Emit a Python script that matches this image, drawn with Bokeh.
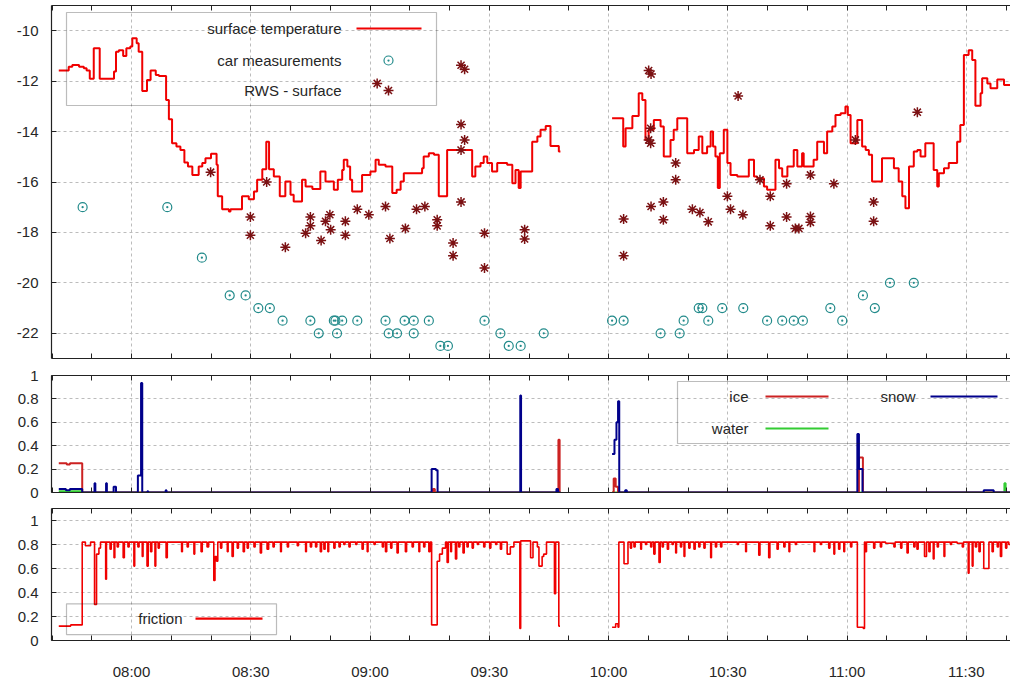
import math
from bokeh.plotting import figure
from bokeh.layouts import column
from bokeh.models import LinearAxis, FixedTicker, Range1d, Label, BoxAnnotation, Grid
from bokeh.embed import file_html
from bokeh.resources import INLINE

NAN = float("nan")

# ---------------- data (time = minutes after midnight) ----------------
# surface temperature (step line, NaN = gap in data)
temp_t = [461.7, 464.2, 465.1, 466.8, 468.0, 468.7, 469.5, 470.5, 472.0, 475.6,
          476.1, 476.8, 477.9, 478.7, 479.7, 480.2, 481.3, 481.8, 482.7, 483.9,
          484.8, 486.1, 486.9, 488.7, 489.4, 490.2, 491.3, 492.3, 493.3, 494.2,
          495.3, 496.9, 497.8, 498.6, 500.0, 501.4, 501.7, 502.8, 504.5, 504.9,
          507.8, 509.5, 510.8, 511.6, 512.9, 513.9, 514.6, 515.8, 517.3, 518.7,
          520.0, 520.8, 522.9, 523.8, 525.5, 527.5, 528.8, 530.9, 531.9, 533.0,
          533.4, 534.3, 535.0, 535.5, 538.0, 540.1, 541.4, 542.2, 543.9, 545.6,
          546.7, 547.7, 548.5, 553.1, 553.5, 554.8, 556.1, 557.3, 559.4, 565.7,
          566.5, 567.8, 568.6, 569.5, 570.7, 572.0, 574.5, 575.8, 576.6, 577.4,
          577.9, 580.8, 582.1, 582.9, 584.2, 585.4, 587.5, 587.9, NAN,
          600.9, 603.7, 604.3, 606.0, 607.6, 608.5, 609.3, 610.1, 611.4, 613.1,
          613.9, 615.6, 616.4, 617.3, 619.8, 621.5, 622.7, 623.6, 624.8, 625.7,
          626.3, 626.9, 627.5, 628.0, 629.0, 629.9, 630.7, 632.4, 635.3, 636.6,
          637.4, 639.1, 639.9, 642.0, 642.9, 643.7, 645.0, 646.6, 647.5, 648.7,
          649.1, 651.6, 652.5, 654.2, 655.0, 656.3, 657.1, 658.4, 659.6, 660.2,
          660.9, 662.6, 663.8, 664.7, 665.5, 666.3, 668.8, 671.8, 673.0, 673.9,
          674.7, 675.6, 676.8, 677.7, 678.5, 679.7, 681.8, 682.7, 683.1, 684.4,
          685.6, 687.7, 688.5, 689.4, 690.6, 691.5, 692.3, 693.6, 694.0, 695.3,
          696.1, 697.8, 699.5, 701.1]
temp_v = [-11.58, -11.43, -11.36, -11.43, -11.49, -11.58, -11.91, -10.70, -11.91, -11.62,
          -10.83, -10.77, -11.00, -10.70, -10.63, -10.30, -10.50, -10.83, -12.39, -11.95,
          -11.58, -11.76, -11.80, -12.75, -13.51, -14.46, -14.59, -14.73, -15.23, -15.39,
          -15.72, -15.39, -15.25, -15.06, -14.88, -15.32, -16.57, -17.08, -17.17, -17.08,
          -16.57, -16.68, -16.38, -15.91, -15.49, -14.40, -15.49, -15.78, -16.57, -15.98,
          -16.51, -16.77, -15.91, -16.18, -16.28, -15.58, -15.98, -16.31, -15.91, -15.52,
          -15.12, -15.39, -15.91, -16.38, -15.72, -15.58, -15.12, -15.32, -15.39, -16.44,
          -16.31, -15.98, -15.65, -15.45, -14.99, -14.86, -14.92, -16.57, -14.73, -15.78,
          -15.39, -15.25, -14.99, -15.25, -15.58, -15.25, -15.32, -16.05, -15.52, -16.24,
          -15.58, -14.40, -14.20, -13.93, -13.78, -14.57, -14.79, -14.79, NAN,
          -13.47, -14.59, -13.87, -13.38, -12.48, -12.75, -14.33, -13.93, -13.54, -13.80,
          -14.99, -14.33, -13.93, -13.47, -14.86, -14.73, -14.20, -14.86, -14.59, -14.00,
          -14.59, -14.99, -16.24, -14.86, -13.93, -15.25, -15.72, -15.78, -15.12, -15.78,
          -15.85, -16.18, -16.31, -15.12, -15.45, -15.78, -15.39, -14.73, -15.39, -14.86,
          -15.39, -15.12, -14.40, -14.86, -14.00, -13.80, -13.34, -13.27, -13.01, -13.34,
          -14.46, -13.54, -14.59, -14.73, -14.92, -15.98, -15.06, -15.45, -15.98, -16.57,
          -17.04, -15.39, -14.79, -14.73, -14.99, -14.46, -15.52, -16.18, -15.65, -15.45,
          -15.25, -14.40, -13.74, -10.96, -10.77, -11.16, -12.98, -12.48, -11.89, -12.09,
          -12.28, -11.93, -12.15, -12.15]

# car measurements
car_t = [467.7, 489.0, 497.7, 504.7, 508.7, 511.9, 514.8, 518.0, 525.0, 527.1,
         530.9, 531.3, 531.7, 533.0, 536.8, 543.9, 544.7, 546.8, 548.7, 551.0,
         551.0, 554.8, 557.7, 559.6, 568.8, 572.8, 574.9, 577.9, 583.7, 600.9,
         603.8, 613.1, 617.9, 618.9, 622.7, 623.6, 625.1, 628.6, 633.9, 639.9,
         643.7, 646.6, 648.9, 655.8, 658.8, 664.0, 667.0, 670.8, 676.8]
car_v = [-17.0, -17.0, -19.0, -20.5, -20.5, -21.0, -21.0, -21.5, -21.5, -22.0,
         -21.5, -21.5, -22.0, -21.5, -21.5, -21.5, -22.0, -22.0, -21.5, -21.5,
         -22.0, -21.5, -22.5, -22.5, -21.5, -22.0, -22.5, -22.5, -22.0, -21.5,
         -21.5, -22.0, -22.0, -21.5, -21.0, -21.0, -21.5, -21.0, -21.0, -21.5,
         -21.5, -21.5, -21.5, -21.0, -21.5, -20.5, -21.0, -20.0, -20.0]

# RWS - surface
rws_t = [499.9, 509.9, 509.9, 514.0, 518.7, 523.8, 525.0, 525.0, 527.7, 528.8,
         529.9, 530.1, 533.8, 533.8, 536.8, 539.7, 541.8, 543.9, 545.0, 548.9,
         551.7, 553.8, 556.9, 556.9, 560.9, 560.9, 562.9, 563.8, 562.9, 563.8,
         562.9, 562.9, 568.8, 568.8, 578.9, 578.9, 603.8, 603.8, 610.1, 610.7,
         610.6, 610.1, 610.6, 610.7, 613.8, 613.8, 616.9, 616.9, 621.1, 623.0,
         625.1, 629.9, 630.7, 632.6, 633.8, 638.1, 640.7, 640.7, 644.8, 644.8,
         647.0, 647.9, 650.8, 650.8, 650.8, 656.7, 662.1, 666.7, 666.7, 677.7]
rws_v = [-15.61, -17.39, -18.11, -16.00, -18.59, -18.03, -17.39, -17.74, -18.32, -17.56,
         -17.30, -17.89, -17.56, -18.11, -17.08, -17.30, -12.09, -16.97, -18.24, -17.84,
         -17.08, -16.97, -17.50, -17.74, -18.42, -18.92, -11.37, -11.53, -13.72, -14.33,
         -14.73, -16.79, -18.03, -19.41, -17.89, -18.26, -17.47, -18.92, -11.58, -11.72,
         -13.87, -14.33, -14.46, -16.97, -16.79, -17.50, -15.25, -15.91, -17.08, -17.21,
         -17.58, -16.57, -17.08, -12.59, -17.30, -15.91, -16.57, -17.74, -16.07, -17.39,
         -17.84, -17.84, -15.72, -17.37, -17.60, -16.07, -14.33, -16.79, -17.56, -13.23]

# road condition fractions (step lines)
ice_t = [461.7, 463.7, 464.5, 467.6, 555.8, 556.3, 587.4, 587.7, 587.9, NAN,
         600.9, 601.3, 601.8, 602.4, 663.0, 664.0, 701.1]
ice_v = [0.25, 0.24, 0.25, 0.0, 0.03, 0.0, 0.45, 0.0, 0.0, NAN,
         0.0, 0.12, 0.05, 0.0, 0.30, 0.0, 0.0]
snow_t = [461.7, 463.5, 464.5, 467.6, 470.7, 470.9, 473.6, 473.8, 475.5, 476.1,
          481.6, 482.4, 482.7, 484.0, 484.2, 488.6, 488.8, 555.5, 556.6, 557.0,
          577.8, 578.0, 586.9, 587.3, 587.9, NAN,
          600.9, 601.5, 602.0, 602.4, 602.7, 604.2, 604.6, 662.6, 663.0, 663.9,
          694.4, 696.9, 701.1]
snow_v = [0.03, 0.02, 0.03, 0.0, 0.08, 0.0, 0.08, 0.0, 0.05, 0.0,
          0.145, 0.935, 0.0, 0.01, 0.0, 0.02, 0.0, 0.20, 0.19, 0.0,
          0.83, 0.0, 0.03, 0.0, 0.0, NAN,
          0.33, 0.45, 0.60, 0.78, 0.0, 0.02, 0.0, 0.50, 0.20, 0.0,
          0.02, 0.0, 0.0]
water_t = [461.7, 467.6, 587.9, NAN, 600.9, 699.6, 699.9, 701.1]
water_v = [0.01, 0.0, 0.0, NAN, 0.0, 0.08, 0.0, 0.0]

# friction (step line)
fric_t = [461.7, 464.7, 467.6, 468.4, 469.7, 470.7, 471.2, 471.8, 472.2, 473.5,
          473.7, 474.6, 474.9, 475.6, 475.8, 476.4, 476.7, 477.9, 478.2, 479.1,
          479.4, 480.6, 480.8, 481.6, 481.9, 482.7, 482.9, 483.9, 484.2, 484.8,
          485.1, 485.9, 486.1, 486.7, 487.0, 488.7, 489.0, 492.6, 492.8, 494.0,
          494.3, 495.7, 495.9, 497.5, 497.8, 499.0, 499.4, 500.7, 501.0, 501.4,
          501.7, 502.4, 502.7, 504.1, 504.3, 505.3, 505.6, 506.6, 506.9, 508.1,
          508.4, 509.1, 509.4, 510.8, 511.1, 512.4, 512.7, 514.1, 514.5, 515.6,
          515.9, 517.5, 517.7, 519.2, 519.5, 521.7, 522.0, 523.8, 524.0, 525.0,
          525.3, 526.3, 526.6, 527.5, 527.8, 528.4, 528.7, 529.4, 529.6, 530.9,
          531.2, 532.2, 532.5, 533.4, 533.7, 534.7, 535.0, 536.4, 536.7, 538.0,
          538.3, 539.3, 539.5, 541.0, 541.3, 543.1, 543.4, 543.9, 544.2, 545.2,
          545.5, 546.8, 547.1, 548.9, 549.2, 550.6, 550.9, 552.3, 552.5, 553.5,
          553.8, 554.8, 555.1, 555.5, 556.9, 557.5, 558.2, 559.0, 559.4, 559.7,
          560.3, 560.5, 561.5, 561.8, 562.3, 562.6, 563.4, 563.7, 564.4, 564.7,
          565.7, 566.0, 567.0, 567.3, 568.6, 568.9, 570.1, 570.4, 571.6, 571.9,
          572.8, 573.1, 574.5, 575.3, 576.2, 577.7, 577.9, 580.4, 581.0, 582.1,
          582.5, 583.3, 583.7, 584.4, 586.4, 586.7, 587.5, 587.8, NAN,
          600.9, 601.8, 602.4, 602.6, 603.9, 604.9, 605.5, 605.8, 606.4, 606.7,
          608.1, 608.3, 609.3, 609.6, 610.6, 610.9, 611.4, 611.7, 612.7, 613.0,
          613.5, 613.8, 614.8, 615.1, 616.0, 616.3, 616.9, 617.1, 618.1, 618.4,
          619.0, 619.2, 620.2, 620.5, 621.5, 621.8, 622.7, 623.0, 624.0, 624.3,
          625.7, 625.9, 626.9, 627.2, 628.2, 628.5, 632.4, 632.7, 634.5, 634.7,
          637.8, 638.1, 640.3, 640.6, 642.4, 642.7, 644.1, 644.4, 645.4, 645.6,
          647.0, 647.3, 651.7, 651.9, 653.3, 653.6, 655.4, 655.7, 656.7, 656.9,
          657.9, 658.2, 659.2, 659.4, 660.9, 661.2, 662.6, 664.1, 664.4, 664.6,
          664.9, 666.7, 667.0, 668.4, 668.7, 669.7, 671.8, 672.1, 673.5, 673.8,
          675.1, 675.4, 676.8, 677.1, 677.6, 677.9, 679.5, 680.0, 680.6, 680.9,
          681.7, 681.9, 682.7, 683.0, 684.4, 684.6, 686.0, 686.3, 687.7, 689.0,
          689.3, 690.5, 690.7, 691.5, 691.7, 692.3, 692.6, 693.2, 693.5, 694.4,
          695.7, 696.5, 696.8, 697.8, 698.1, 698.6, 698.9, 699.9, 700.2, 700.7, 701.1]
fric_v = [0.12, 0.13, 0.82, 0.79, 0.82, 0.30, 0.72, 0.77, 0.82, 0.51,
          0.82, 0.76, 0.82, 0.69, 0.82, 0.78, 0.82, 0.69, 0.82, 0.78,
          0.82, 0.62, 0.82, 0.78, 0.82, 0.70, 0.82, 0.62, 0.82, 0.74,
          0.82, 0.62, 0.82, 0.77, 0.82, 0.69, 0.82, 0.74, 0.82, 0.78,
          0.82, 0.72, 0.82, 0.74, 0.82, 0.78, 0.82, 0.50, 0.70, 0.66,
          0.82, 0.77, 0.82, 0.74, 0.82, 0.70, 0.82, 0.77, 0.82, 0.74,
          0.82, 0.77, 0.82, 0.78, 0.82, 0.73, 0.82, 0.76, 0.82, 0.78,
          0.82, 0.74, 0.82, 0.78, 0.82, 0.79, 0.82, 0.74, 0.82, 0.78,
          0.82, 0.78, 0.82, 0.74, 0.82, 0.76, 0.82, 0.74, 0.82, 0.77,
          0.82, 0.78, 0.82, 0.80, 0.82, 0.78, 0.82, 0.80, 0.82, 0.76,
          0.82, 0.74, 0.82, 0.80, 0.82, 0.78, 0.82, 0.74, 0.82, 0.77,
          0.82, 0.73, 0.82, 0.74, 0.82, 0.78, 0.82, 0.74, 0.82, 0.78,
          0.82, 0.74, 0.82, 0.13, 0.66, 0.72, 0.77, 0.82, 0.65, 0.82,
          0.74, 0.82, 0.68, 0.82, 0.78, 0.82, 0.73, 0.82, 0.78, 0.82,
          0.77, 0.82, 0.80, 0.82, 0.78, 0.82, 0.77, 0.82, 0.80, 0.82,
          0.76, 0.82, 0.72, 0.78, 0.82, 0.10, 0.83, 0.69, 0.82, 0.78,
          0.62, 0.70, 0.72, 0.82, 0.39, 0.82, 0.12, 0.12, NAN,
          0.11, 0.14, 0.11, 0.82, 0.64, 0.82, 0.77, 0.82, 0.78, 0.82,
          0.76, 0.82, 0.80, 0.82, 0.78, 0.82, 0.72, 0.82, 0.65, 0.82,
          0.78, 0.82, 0.76, 0.82, 0.80, 0.82, 0.73, 0.82, 0.78, 0.82,
          0.70, 0.82, 0.77, 0.82, 0.76, 0.82, 0.78, 0.82, 0.77, 0.82,
          0.69, 0.82, 0.78, 0.82, 0.78, 0.82, 0.80, 0.82, 0.74, 0.82,
          0.71, 0.82, 0.69, 0.82, 0.76, 0.82, 0.78, 0.82, 0.74, 0.82,
          0.80, 0.82, 0.74, 0.82, 0.80, 0.82, 0.77, 0.82, 0.72, 0.82,
          0.76, 0.82, 0.74, 0.82, 0.78, 0.82, 0.11, 0.10, 0.82, 0.74,
          0.82, 0.77, 0.82, 0.78, 0.82, 0.81, 0.78, 0.82, 0.77, 0.82,
          0.73, 0.82, 0.78, 0.82, 0.76, 0.82, 0.70, 0.82, 0.74, 0.82,
          0.68, 0.82, 0.78, 0.82, 0.70, 0.82, 0.80, 0.82, 0.81, 0.78,
          0.82, 0.56, 0.82, 0.62, 0.82, 0.78, 0.82, 0.74, 0.82, 0.60,
          0.82, 0.74, 0.82, 0.78, 0.82, 0.70, 0.82, 0.77, 0.82, 0.80, 0.80]

# axes ticks and labels
x_major = [480, 510, 540, 570, 600, 630, 660, 690]
x_labels = ["08:00", "08:30", "09:00", "09:30", "10:00", "10:30", "11:00", "11:30"]
x_minor = [460, 470, 490, 500, 520, 530, 550, 560, 580, 590, 610, 620, 640, 650, 670, 680, 700]
temp_ticks = [-22, -20, -18, -16, -14, -12, -10]
temp_tick_labels = ["-22", "-20", "-18", "-16", "-14", "-12", "-10"]
frac_ticks = [0, 0.2, 0.4, 0.6, 0.8, 1]
frac_tick_labels = ["0", "0.2", "0.4", "0.6", "0.8", "1"]

# ---------------- styling / layout ----------------
FONT = "Liberation Sans"
TXT = "#262626"
EDGE = "#222222"
GRID = "#bcbcbc"
W = 1010
LEFT = 51
X0, X1 = 459.87, 701.13

RED = "#f00000"
TEAL = "#238b8b"
MAROON = "#7b1113"
ICE = "#cc2222"
SNOW = "#00008b"
WATER = "#33cc33"


def segments(ts, vs):
    st, sv = [], []
    for t, v in zip(ts, vs):
        if math.isnan(t):
            if st:
                yield st, sv
            st, sv = [], []
        else:
            st.append(t)
            sv.append(v)
    if st:
        yield st, sv


def make_panel(height, top, bottom, yr, yticks, ylabels, show_x):
    p = figure(width=W, height=height, x_range=Range1d(X0, X1), y_range=Range1d(*yr),
               x_axis_location=None, y_axis_location=None, output_backend="svg",
               toolbar_location=None, min_border_left=LEFT, min_border_right=0,
               min_border_top=top, min_border_bottom=bottom)
    p.outline_line_color = None
    p.background_fill_color = "white"
    p.border_fill_color = "white"
    for g in p.grid:
        g.visible = False
    p.add_layout(Grid(dimension=0, ticker=FixedTicker(ticks=x_major), grid_line_color=GRID,
                      grid_line_dash="3 3", grid_line_width=1))
    p.add_layout(Grid(dimension=1, ticker=FixedTicker(ticks=yticks), grid_line_color=GRID,
                      grid_line_dash="3 3", grid_line_width=1))

    for place in ("below", "above"):
        ax = LinearAxis(ticker=FixedTicker(ticks=x_major, minor_ticks=x_minor),
                        axis_line_color=EDGE, axis_line_width=1.2,
                        major_tick_in=5, major_tick_out=0, minor_tick_in=5, minor_tick_out=0,
                        major_tick_line_color=EDGE, minor_tick_line_color=EDGE)
        if place == "below" and show_x:
            ax.major_label_overrides = dict(zip(x_major, x_labels))
            ax.major_label_text_font = FONT
            ax.major_label_text_font_size = "15px"
            ax.major_label_text_color = TXT
            ax.major_label_standoff = 22
        else:
            ax.major_label_overrides = {t: "" for t in x_major}
            ax.major_label_text_font_size = "1px"
            ax.major_label_standoff = 0
        p.add_layout(ax, place)

    ay = LinearAxis(ticker=FixedTicker(ticks=yticks), axis_line_color=EDGE, axis_line_width=1.2,
                    major_tick_in=5, major_tick_out=0, minor_tick_in=0, minor_tick_out=0,
                    major_tick_line_color=EDGE)
    ay.major_label_overrides = dict(zip(yticks, ylabels))
    ay.major_label_text_font = FONT
    ay.major_label_text_font_size = "15px"
    ay.major_label_text_color = TXT
    ay.major_label_standoff = 13
    p.add_layout(ay, "left")
    return p


def mapper(top, bottom, yr):
    y0, y1 = yr
    fx = lambda px: X0 + (px - LEFT) * (X1 - X0) / (W - LEFT)
    fy = lambda py: y1 - (py - top) * (y1 - y0) / (bottom - top)
    return fx, fy


def key_box(p, fx, fy, l, r, t, b):
    p.add_layout(BoxAnnotation(left=fx(l), right=fx(r), top=fy(t), bottom=fy(b),
                               fill_alpha=0, fill_color=None, line_color=EDGE, line_width=1.2))


def key_text(p, fx, fy, px, py, text):
    p.add_layout(Label(x=fx(px), y=fy(py), text=text, text_align="right", text_baseline="middle",
                       text_font=FONT, text_font_size="15px", text_color=TXT))


def key_line(p, fx, fy, a, b, py, color):
    p.line([fx(a), fx(b)], [fy(py), fy(py)], line_color=color, line_width=2.2)


# ---------------- panel 1: temperatures ----------------
Y1 = (-23, -9)
p1 = make_panel(366, 5, 8, Y1, temp_ticks, temp_tick_labels, False)
for st, sv in segments(temp_t, temp_v):
    p1.step(st, sv, mode="after", line_color=RED, line_width=2)
p1.scatter(car_t, car_v, marker="circle_dot", size=9, line_color=TEAL, fill_color=None,
           line_width=1.2)
p1.scatter(rws_t, rws_v, marker="asterisk", size=10, line_color=MAROON, line_width=1.5)

fx, fy = mapper(5, 358, Y1)
key_box(p1, fx, fy, 66, 436, 12, 105)
key_text(p1, fx, fy, 341, 28, "surface temperature")
key_text(p1, fx, fy, 341, 60, "car measurements")
key_text(p1, fx, fy, 341, 90, "RWS - surface")
key_line(p1, fx, fy, 356, 421, 28, RED)
p1.scatter([fx(388)], [fy(60)], marker="circle_dot", size=9, line_color=TEAL, fill_color=None,
           line_width=1.2)
p1.scatter([fx(388)], [fy(90)], marker="asterisk", size=10, line_color=MAROON, line_width=1.5)

# ---------------- panel 2: ice / water / snow ----------------
Y2 = (0, 1)
p2 = make_panel(134, 9, 8, Y2, frac_ticks, frac_tick_labels, False)
for st, sv in segments(water_t, water_v):
    p2.step(st, sv, mode="after", line_color=WATER, line_width=2)
for st, sv in segments(ice_t, ice_v):
    p2.step(st, sv, mode="after", line_color=ICE, line_width=2)
for st, sv in segments(snow_t, snow_v):
    p2.step(st, sv, mode="after", line_color=SNOW, line_width=2)

fx, fy = mapper(375, 492, Y2)
key_box(p2, fx, fy, 677, 1012, 381, 443)
key_text(p2, fx, fy, 748, 396, "ice")
key_text(p2, fx, fy, 748, 428, "water")
key_text(p2, fx, fy, 915, 396, "snow")
key_line(p2, fx, fy, 765, 828, 396, ICE)
key_line(p2, fx, fy, 765, 828, 428, WATER)
key_line(p2, fx, fy, 930, 997, 396, SNOW)

# ---------------- panel 3: friction ----------------
Y3 = (0, 1.1)
p3 = make_panel(182, 8, 41, Y3, frac_ticks, frac_tick_labels, True)
for st, sv in segments(fric_t, fric_v):
    p3.step(st, sv, mode="after", line_color=RED, line_width=1.6)

fx, fy = mapper(508, 641, Y3)
key_box(p3, fx, fy, 66, 276, 604, 635)
key_text(p3, fx, fy, 182, 619, "friction")
key_line(p3, fx, fy, 195, 262, 619, RED)

layout = column(p1, p2, p3)
open("out.html", "w").write(file_html(layout, INLINE))
